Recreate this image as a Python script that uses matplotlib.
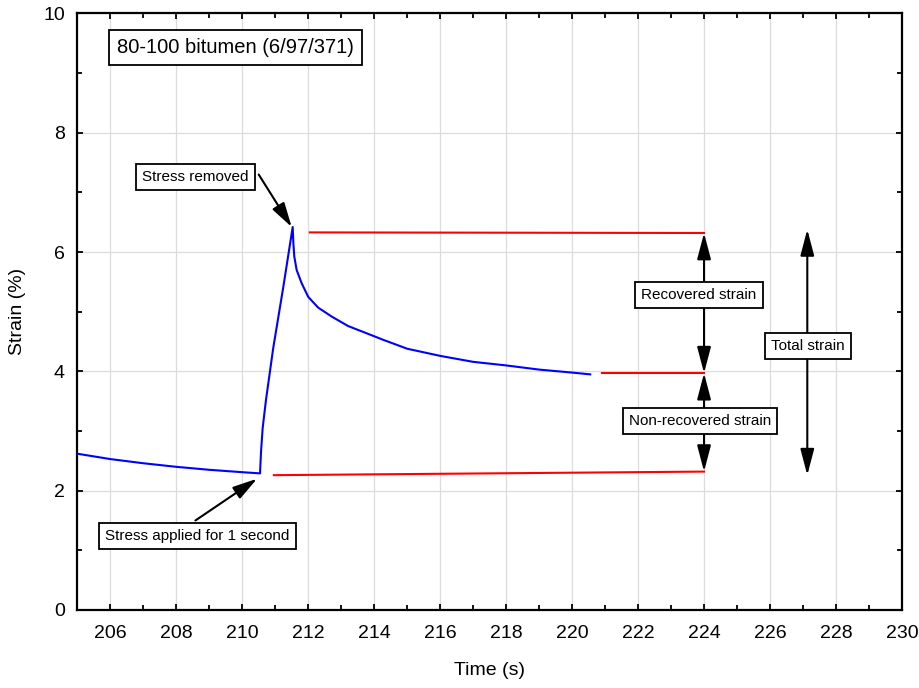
import matplotlib.pyplot as plt
from matplotlib.patches import FancyArrowPatch

# strain trace (creep then recovery)
time_s = [205.0, 206.0, 207.0, 208.0, 209.0, 210.0, 210.54,
          210.57, 210.62, 210.72, 210.94, 211.25, 211.53,
          211.55, 211.58, 211.65, 211.8, 212.0, 212.3, 212.71, 213.21,
          213.72, 214.27, 215.0, 216.0, 217.0, 218.0, 219.0, 220.0, 220.55]
strain = [2.62, 2.53, 2.46, 2.40, 2.35, 2.31, 2.29,
          2.65, 3.05, 3.52, 4.39, 5.43, 6.42,
          6.15, 5.92, 5.70, 5.48, 5.25, 5.07, 4.92, 4.76,
          4.65, 4.53, 4.38, 4.26, 4.16, 4.10, 4.03, 3.98, 3.95]

# red reference levels
peak_x, peak_y = [212.05, 224.0], [6.33, 6.32]
end_x, end_y = [220.9, 224.0], [3.97, 3.97]
start_x, start_y = [210.96, 224.0], [2.26, 2.32]

x_ticks = list(range(206, 231, 2))
y_ticks = [0, 2, 4, 6, 8, 10]

plt.rcParams['font.family'] = ['Liberation Sans', 'DejaVu Sans']

fig = plt.figure(figsize=(9.2, 6.88), dpi=100)
ax = fig.add_axes([0.084, 0.1134, 0.8964, 0.867])

ax.plot(time_s, strain, color='#0000ff', lw=1.5, zorder=3,
        solid_joinstyle='round')
ax.plot(peak_x, peak_y, color='#ff0000', lw=1.5, zorder=3)
ax.plot(end_x, end_y, color='#ff0000', lw=1.5, zorder=3)
ax.plot(start_x, start_y, color='#ff0000', lw=1.5, zorder=3)

ax.set_xlim(205, 230)
ax.set_ylim(0, 10)
ax.set_xticks(x_ticks)
ax.set_yticks(y_ticks)
ax.set_xticks(range(205, 231), minor=True)
ax.set_yticks(range(0, 11), minor=True)
ax.grid(True, which='major', color='#dcdcdc', lw=0.9, zorder=0)
ax.set_axisbelow(True)
ax.tick_params(which='both', direction='in', top=True, right=True,
               width=1.3, labelsize=14)
ax.tick_params(axis='x', which='both', pad=11)
ax.tick_params(axis='y', which='both', pad=9)
ax.tick_params(which='major', length=4.5)
ax.tick_params(which='minor', length=3.5)
for s in ax.spines.values():
    s.set_linewidth(1.6)

ax.set_xlabel('Time (s)', fontsize=14, labelpad=14)
ax.set_ylabel('Strain (%)', fontsize=14, labelpad=12)

box = dict(boxstyle='square,pad=0.4', fc='white', ec='black', lw=1.3)

ax.text(209.8, 9.43, '80-100 bitumen (6/97/371)', fontsize=14.5,
        ha='center', va='center', bbox=box, zorder=6)


def double_arrow(x, y0, y1):
    a = FancyArrowPatch((x, y0), (x, y1),
                        arrowstyle='<|-|>,head_length=1.6,head_width=0.42',
                        mutation_scale=10, color='black', lw=1.5,
                        shrinkA=0, shrinkB=0, zorder=4)
    ax.add_patch(a)


def single_arrow(p0, p1):
    a = FancyArrowPatch(p0, p1,
                        arrowstyle='-|>,head_length=1.5,head_width=0.42',
                        mutation_scale=10, color='black', lw=1.5,
                        shrinkA=0, shrinkB=0, zorder=4)
    ax.add_patch(a)


double_arrow(224.0, 6.32, 3.97)
double_arrow(224.0, 3.97, 2.32)
double_arrow(227.13, 6.38, 2.26)

ax.text(223.84, 5.28, 'Recovered strain', fontsize=11,
        ha='center', va='center', bbox=box, zorder=6)
ax.text(223.87, 3.17, 'Non-recovered strain', fontsize=11,
        ha='center', va='center', bbox=box, zorder=6)
ax.text(227.14, 4.43, 'Total strain', fontsize=11,
        ha='center', va='center', bbox=box, zorder=6)

ax.text(208.58, 7.26, 'Stress removed', fontsize=11,
        ha='center', va='center', bbox=box, zorder=6)
single_arrow((210.5, 7.30), (211.5, 6.42))
ax.text(208.64, 1.24, 'Stress applied for 1 second', fontsize=11,
        ha='center', va='center', bbox=box, zorder=6)
single_arrow((208.58, 1.50), (210.45, 2.20))

fig.savefig('out.png', dpi=100)
